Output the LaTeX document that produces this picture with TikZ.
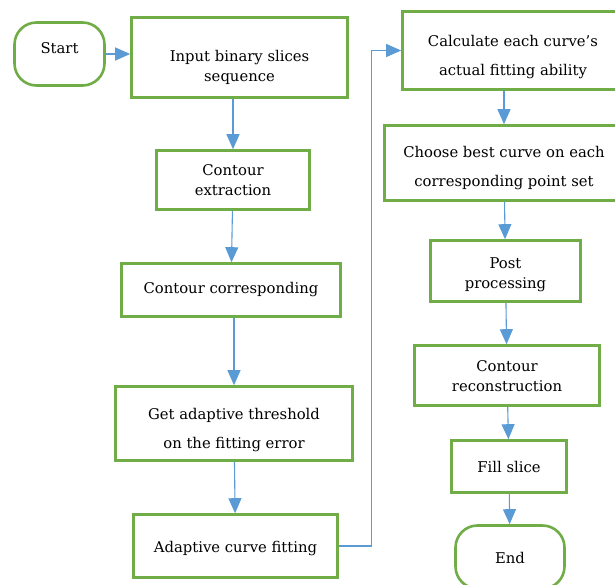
\documentclass[tikz,border=0pt]{standalone}
\usepackage{fontspec}
\setmainfont{DejaVu Serif}
\usetikzlibrary{arrows.meta}

\definecolor{boxgreen}{HTML}{70AD47}
\definecolor{arrowblue}{HTML}{5B9BD5}

% testo spostato in basso nel riquadro
\newcommand{\shiftdown}[2]{\raisebox{-#1}[\height][\depth]{\begin{tabular}{@{}c@{}}#2\end{tabular}}}

\tikzset{
	stepbox/.style={draw=boxgreen, line width=2.6pt, fill=white, align=center,
		inner sep=2pt, text=black, font=\fontsize{14.8}{20}\selectfont},
	widebox/.style={stepbox, font=\fontsize{14.8}{29}\selectfont},
	terminal/.style={stepbox, rounded corners=22pt},
	arr/.style={draw=arrowblue, line width=1.1pt, -{Triangle[width=13pt,length=15pt]}},
}

\begin{document}
\begin{tikzpicture}[x=1pt,y=-1pt]
	\path[use as bounding box, clip] (0,0) rectangle (615,585);

	% Colonna sinistra
	\node[terminal, minimum width=90pt, minimum height=63pt] (start) at (59.5,54) {\shiftdown{-4pt}{Start}};
	\node[stepbox, minimum width=216pt, minimum height=80pt] (input) at (239.5,57.5) {\shiftdown{10pt}{Input binary slices\\sequence}};
	\node[stepbox, minimum width=153pt, minimum height=59pt] (extract) at (233,180) {\shiftdown{1.5pt}{Contour\\extraction}};
	\node[stepbox, minimum width=219pt, minimum height=53pt] (corresp) at (231,290) {Contour corresponding};
	\node[widebox, minimum width=237pt, minimum height=74pt] (threshold) at (234,423.5) {\shiftdown{5pt}{Get adaptive threshold\\on the fitting error}};
	\node[stepbox, minimum width=204pt, minimum height=63pt] (fitting) at (235.5,546) {\shiftdown{2pt}{Adaptive curve fitting}};

	% Colonna destra
	\node[widebox, minimum width=221pt, minimum height=78pt] (ability) at (513,50.5) {\shiftdown{5pt}{Calculate each curve’s\\actual fitting ability}};
	\node[widebox, minimum width=239pt, minimum height=75pt] (choose) at (504,163) {\shiftdown{3pt}{Choose best curve on each\\corresponding point set}};
	\node[stepbox, minimum width=150pt, minimum height=61pt] (post) at (505.5,271) {\shiftdown{3pt}{Post\\processing}};
	\node[stepbox, minimum width=185pt, minimum height=60pt] (recon) at (507,375.5) {\shiftdown{2pt}{Contour\\reconstruction}};
	\node[stepbox, minimum width=115pt, minimum height=52pt] (fill) at (509,466.5) {Fill slice};
	\node[terminal, minimum width=109pt, minimum height=63pt] (end) at (510,557) {\shiftdown{2pt}{End}};

	% Frecce
	\draw[arr] (start.east) -- (start.east -| input.west);
	\draw[arr] (input.south -| extract) -- (extract.north);
	\draw[arr] (extract) -- (corresp);
	\draw[arr] (corresp.south -| threshold) -- (threshold.north);
	\draw[arr] (threshold) -- (fitting);
	\draw[arr] (fitting.east) -- ++(33,0) |- (ability.west);
	\draw[arr] (ability.south -| choose) -- (choose.north);
	\draw[arr] (choose) -- (post);
	\draw[arr] (post) -- (recon);
	\draw[arr] (recon) -- (fill);
	\draw[arr] (fill) -- (end);
\end{tikzpicture}
\end{document}
